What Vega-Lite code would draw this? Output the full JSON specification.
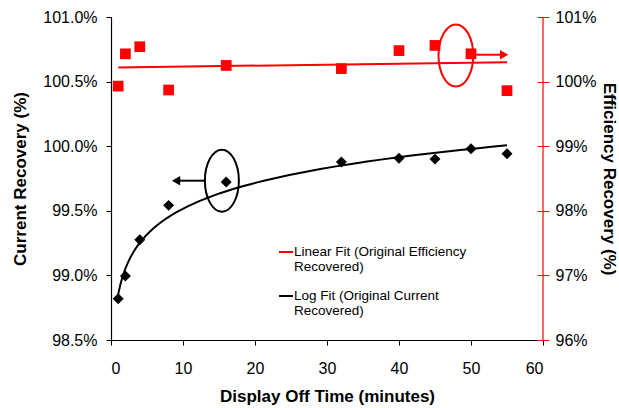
{
  "$schema": "https://vega.github.io/schema/vega-lite/v6.json",
  "width": 432,
  "height": 323,
  "autosize": {"type": "none"},
  "padding": {"left": 111, "top": 17, "right": 76, "bottom": 68},
  "background": "#ffffff",
  "config": {
    "view": {"stroke": null},
    "font": "Liberation Sans",
    "style": {"guide-label": {"lineHeight": 15}}
  },
  "datasets": {
    "current": [
      {"minutes": 1, "value": 98.82, "fit": "Log Fit (Original Current Recovered)"},
      {"minutes": 2, "value": 98.995, "fit": "Log Fit (Original Current Recovered)"},
      {"minutes": 4, "value": 99.276, "fit": "Log Fit (Original Current Recovered)"},
      {"minutes": 8, "value": 99.542, "fit": "Log Fit (Original Current Recovered)"},
      {"minutes": 16, "value": 99.723, "fit": "Log Fit (Original Current Recovered)"},
      {"minutes": 32, "value": 99.878, "fit": "Log Fit (Original Current Recovered)"},
      {"minutes": 40, "value": 99.906, "fit": "Log Fit (Original Current Recovered)"},
      {"minutes": 45, "value": 99.9, "fit": "Log Fit (Original Current Recovered)"},
      {"minutes": 50, "value": 99.98, "fit": "Log Fit (Original Current Recovered)"},
      {"minutes": 55, "value": 99.942, "fit": "Log Fit (Original Current Recovered)"}
    ],
    "efficiency": [
      {"minutes": 1, "value": 99.93, "fit": "Linear Fit (Original Efficiency Recovered)"},
      {"minutes": 2, "value": 100.43, "fit": "Linear Fit (Original Efficiency Recovered)"},
      {"minutes": 4, "value": 100.54, "fit": "Linear Fit (Original Efficiency Recovered)"},
      {"minutes": 8, "value": 99.87, "fit": "Linear Fit (Original Efficiency Recovered)"},
      {"minutes": 16, "value": 100.25, "fit": "Linear Fit (Original Efficiency Recovered)"},
      {"minutes": 32, "value": 100.2, "fit": "Linear Fit (Original Efficiency Recovered)"},
      {"minutes": 40, "value": 100.48, "fit": "Linear Fit (Original Efficiency Recovered)"},
      {"minutes": 45, "value": 100.56, "fit": "Linear Fit (Original Efficiency Recovered)"},
      {"minutes": 50, "value": 100.43, "fit": "Linear Fit (Original Efficiency Recovered)"},
      {"minutes": 55, "value": 99.86, "fit": "Linear Fit (Original Efficiency Recovered)"}
    ],
    "leftEllipse": [{"minutes": 15.4, "value": 99.733}],
    "leftArrow": [{"minutes": 13.06, "minutes2": 9.1, "value": 99.733}],
    "leftHead": [{"minutes": 9.04, "value": 99.733}],
    "rightEllipse": [{"minutes": 47.9, "value": 100.404}],
    "rightArrow": [{"minutes": 50.3, "minutes2": 54.5, "value": 100.416}],
    "rightHead": [{"minutes": 54.6, "value": 100.416}],
    "rightLine": [{"minutes": 60, "value": 96, "value2": 101}]
  },
  "encoding": {
    "x": {
      "field": "minutes",
      "type": "quantitative",
      "scale": {"domain": [0, 60], "nice": false, "zero": false},
      "axis": {
        "title": "Display Off Time (minutes)",
        "values": [0, 10, 20, 30, 40, 50, 60],
        "grid": false,
        "domainColor": "#000000",
        "domainWidth": 1.2,
        "tickColor": "#000000",
        "tickSize": 5,
        "labelPadding": 15,
        "labelFontSize": 16,
        "labelColor": "#000000",
        "labelFont": "Liberation Sans",
        "titleFont": "Liberation Sans",
        "titleFontSize": 17,
        "titleFontWeight": "bold",
        "titleColor": "#000000",
        "titlePadding": 12
      }
    }
  },
  "layer": [
    {
      "encoding": {
        "y": {
          "field": "value",
          "type": "quantitative",
          "scale": {"domain": [98.5, 101], "nice": false, "zero": false},
          "axis": {
            "title": "Current Recovery (%)",
            "values": [98.5, 99, 99.5, 100, 100.5, 101],
            "format": ".1f",
            "labelExpr": "datum.label + '%'",
            "grid": false,
            "domainColor": "#000000",
            "domainWidth": 1.2,
            "tickColor": "#000000",
            "tickSize": 5,
            "labelPadding": 9,
            "labelFontSize": 16,
            "labelColor": "#000000",
            "labelFont": "Liberation Sans",
            "titleFont": "Liberation Sans",
            "titleFontSize": 17,
            "titleFontWeight": "bold",
            "titleColor": "#000000",
            "titlePadding": 13
          }
        }
      },
      "layer": [
        {
          "data": {"name": "current"},
          "transform": [
            {"regression": "value", "on": "minutes", "method": "log", "groupby": ["fit"]}
          ],
          "mark": {"type": "line", "strokeWidth": 2},
          "encoding": {
            "color": {
              "field": "fit",
              "type": "nominal",
              "scale": {
                "domain": ["Linear Fit (Original Efficiency Recovered)", "Log Fit (Original Current Recovered)"],
                "range": ["#ff0000", "#000000"]
              },
              "legend": {
                "orient": "none",
                "legendX": 167,
                "legendY": 227,
                "title": null,
                "padding": 0,
                "symbolType": "stroke",
                "symbolSize": 196,
                "symbolStrokeWidth": 2,
                "labelOffset": 0,
                "labelFont": "Liberation Sans",
                "labelFontSize": 13.5,
                "labelColor": "#000000",
                "labelLimit": 300,
                "rowPadding": 14,
                "labelExpr": "datum.value == 'Linear Fit (Original Efficiency Recovered)' ? ['Linear Fit (Original Efficiency', 'Recovered)'] : ['Log Fit (Original Current', 'Recovered)']"
              }
            }
          }
        },
        {
          "data": {"name": "current"},
          "mark": {"type": "point", "shape": "diamond", "filled": true, "color": "#000000", "size": 120, "opacity": 1}
        },
        {
          "data": {"name": "leftEllipse"},
          "mark": {
            "type": "point",
            "shape": "M0,-1C0.3,-1,0.548,-0.5523,0.548,0C0.548,0.5523,0.3,1,0,1C-0.3,1,-0.548,0.5523,-0.548,0C-0.548,-0.5523,-0.3,-1,0,-1Z",
            "filled": false,
            "stroke": "#000000",
            "strokeWidth": 2,
            "size": 3844,
            "opacity": 1
          }
        },
        {
          "data": {"name": "leftArrow"},
          "mark": {"type": "rule", "stroke": "#000000", "strokeWidth": 2},
          "encoding": {"x2": {"field": "minutes2"}}
        },
        {
          "data": {"name": "leftHead"},
          "mark": {"type": "point", "shape": "triangle-left", "filled": true, "color": "#000000", "size": 90, "opacity": 1}
        }
      ]
    },
    {
      "encoding": {
        "y": {
          "field": "value",
          "type": "quantitative",
          "scale": {"domain": [96, 101], "nice": false, "zero": false},
          "axis": {
            "orient": "right",
            "title": "Efficiency Recovery (%)",
            "values": [96, 97, 98, 99, 100, 101],
            "format": ".0f",
            "labelExpr": "datum.label + '%'",
            "grid": false,
            "domain": false,
            "offset": -6,
            "tickColor": "#ff0000",
            "tickSize": 12,
            "labelPadding": 6,
            "labelFontSize": 16,
            "labelColor": "#000000",
            "labelFont": "Liberation Sans",
            "titleFont": "Liberation Sans",
            "titleFontSize": 17,
            "titleFontWeight": "bold",
            "titleColor": "#000000",
            "titlePadding": 4
          }
        }
      },
      "layer": [
        {
          "data": {"name": "rightLine"},
          "mark": {"type": "rule", "stroke": "#ff0000", "strokeWidth": 1.2},
          "encoding": {"y2": {"field": "value2"}}
        },
        {
          "data": {"name": "efficiency"},
          "transform": [
            {"regression": "value", "on": "minutes", "method": "linear", "groupby": ["fit"]}
          ],
          "mark": {"type": "line", "strokeWidth": 2},
          "encoding": {
            "color": {"field": "fit", "type": "nominal"}
          }
        },
        {
          "data": {"name": "efficiency"},
          "mark": {"type": "point", "shape": "square", "filled": true, "color": "#ff0000", "size": 115, "opacity": 1}
        },
        {
          "data": {"name": "rightEllipse"},
          "mark": {
            "type": "point",
            "shape": "M0,-1C0.31,-1,0.56,-0.5523,0.56,0C0.56,0.5523,0.31,1,0,1C-0.31,1,-0.56,0.5523,-0.56,0C-0.56,-0.5523,-0.31,-1,0,-1Z",
            "filled": false,
            "stroke": "#ff0000",
            "strokeWidth": 2,
            "size": 3844,
            "opacity": 1
          }
        },
        {
          "data": {"name": "rightArrow"},
          "mark": {"type": "rule", "stroke": "#ff0000", "strokeWidth": 2},
          "encoding": {"x2": {"field": "minutes2"}}
        },
        {
          "data": {"name": "rightHead"},
          "mark": {"type": "point", "shape": "triangle-right", "filled": true, "color": "#ff0000", "size": 90, "opacity": 1}
        }
      ]
    }
  ],
  "resolve": {"scale": {"y": "independent"}}
}
